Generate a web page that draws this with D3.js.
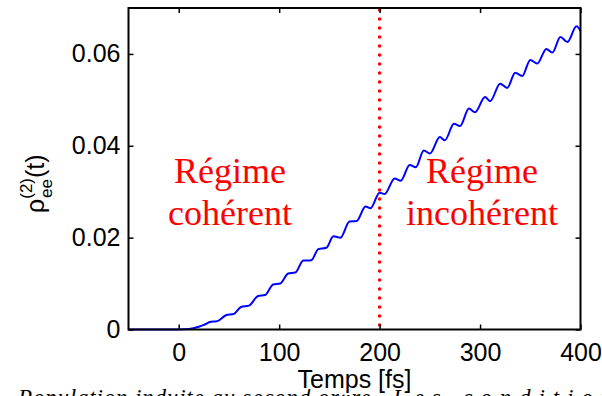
<!DOCTYPE html>
<html>
<head>
<meta charset="utf-8">
<script src="https://cdn.jsdelivr.net/npm/d3@7"></script>
<style>
  body { margin: 0; background: #fff; }
  svg { display: block; }
  .axis text { font-family: "Liberation Sans", Arial, sans-serif; font-size: 25px; fill: #000; }
  .axis line { stroke: #000; stroke-width: 1.5; }
  .axis path { display: none; }
</style>
</head>
<body>
<script>
'use strict'

// time [fs] and second-order population
const timeFs = [-50, 0, 10, 20, 25, 32, 38, 47, 55, 62, 70, 79, 86, 94, 101,
  109, 116, 124, 132, 139, 147, 154, 161, 170, 177, 186, 191, 200, 205, 215,
  221, 230, 236, 244, 250, 260, 265, 274, 280, 289, 295, 305, 310, 320, 327,
  335, 342, 350, 357, 366, 372, 380, 387, 396, 400];
const population = [0, 0, 0.0001, 0.0006, 0.0010, 0.0017, 0.0018, 0.0031, 0.0034, 0.0049,
  0.0052, 0.0073, 0.0075, 0.0098, 0.0100, 0.0122, 0.0124, 0.0150, 0.0151, 0.0175,
  0.0178, 0.0203, 0.0200, 0.0235, 0.0236, 0.0268, 0.0264, 0.0298, 0.0295, 0.0329,
  0.0324, 0.0358, 0.0353, 0.0390, 0.0383, 0.0419, 0.0412, 0.0448, 0.0443, 0.0481,
  0.0473, 0.0506, 0.0497, 0.0535, 0.0526, 0.0559, 0.0552, 0.0587, 0.0579, 0.0611,
  0.0603, 0.0637, 0.0626, 0.0660, 0.0650];

const xTicks = [0, 100, 200, 300, 400];
const xTickLabels = ["0", "100", "200", "300", "400"];
const yTicks = [0, 0.02, 0.04, 0.06];
const yTickLabels = ["0", "0.02", "0.04", "0.06"];
const boundary = 200;

const w = 602;
const h = 396;
const pLeft = 128.5, pRight = 580.5, pTop = 8, pBottom = 329.5;

const xScale = d3.scaleLinear().domain([-50, 400]).range([pLeft, pRight]);
const yScale = d3.scaleLinear().domain([0, 0.07]).range([pBottom, pTop]);

const svg = d3.select("body").append("svg")
  .attr("width", w)
  .attr("height", h);

// caption of the page underneath, mostly cut off
const caption = svg.append("text")
  .attr("y", 405)
  .style("font-family", "'Liberation Serif', serif")
  .style("font-style", "italic")
  .style("font-size", "23px")
  .attr("fill", "#000");
caption.append("tspan")
  .attr("x", 18)
  .attr("textLength", 359)
  .attr("lengthAdjust", "spacing")
  .text("Population induite au second ordre.");
caption.append("tspan")
  .attr("x", 393)
  .attr("textLength", 236)
  .attr("lengthAdjust", "spacing")
  .text("Les conditions");

const points = timeFs.map((t, i) => ({ t: t, p: population[i] }));

const line = d3.line()
  .x(d => xScale(d.t))
  .y(d => yScale(d.p))
  .curve(d3.curveMonotoneX);

svg.append("path")
  .datum(points)
  .attr("d", line)
  .attr("fill", "none")
  .attr("stroke", "#0000ff")
  .attr("stroke-width", 2);

// dotted separator
svg.append("line")
  .attr("x1", xScale(boundary))
  .attr("x2", xScale(boundary))
  .attr("y1", pTop + 2)
  .attr("y2", pBottom)
  .attr("stroke", "#ff0000")
  .attr("stroke-width", 3.6)
  .attr("stroke-linecap", "round")
  .attr("stroke-dasharray", "0 9");

// axes, ticks pointing in
svg.append("g")
  .attr("class", "axis")
  .attr("transform", "translate(0," + pBottom + ")")
  .call(d3.axisBottom(xScale).tickValues(xTicks).tickSize(-5).tickPadding(14)
    .tickFormat((d, i) => xTickLabels[i]));

svg.append("g")
  .attr("class", "axis")
  .attr("transform", "translate(0," + pTop + ")")
  .call(d3.axisTop(xScale).tickValues(xTicks).tickSize(-5).tickFormat(""));

svg.append("g")
  .attr("class", "axis")
  .attr("transform", "translate(" + pLeft + ",0)")
  .call(d3.axisLeft(yScale).tickValues(yTicks).tickSize(-5).tickPadding(8)
    .tickFormat((d, i) => yTickLabels[i]));

svg.append("g")
  .attr("class", "axis")
  .attr("transform", "translate(" + pRight + ",0)")
  .call(d3.axisRight(yScale).tickValues(yTicks).tickSize(-5).tickFormat(""));

svg.append("rect")
  .attr("x", pLeft)
  .attr("y", pTop)
  .attr("width", pRight - pLeft)
  .attr("height", pBottom - pTop)
  .attr("fill", "none")
  .attr("stroke", "#000")
  .attr("stroke-width", 2);

// regime labels
const regimes = [
  { x: 230, lines: ["Régime", "cohérent"] },
  { x: 482, lines: ["Régime", "incohérent"] }
];
regimes.forEach(r => {
  r.lines.forEach((s, i) => {
    svg.append("text")
      .attr("x", r.x)
      .attr("y", 183 + i * 42)
      .attr("text-anchor", "middle")
      .style("font-family", "'Liberation Serif', 'Times New Roman', serif")
      .style("font-size", "36px")
      .attr("fill", "#ff0000")
      .text(s);
  });
});

// x label
svg.append("text")
  .attr("x", (pLeft + pRight) / 2)
  .attr("y", 388)
  .attr("text-anchor", "middle")
  .style("font-family", "'Liberation Sans', Arial, sans-serif")
  .style("font-size", "25px")
  .attr("stroke", "#fff")
  .attr("stroke-width", 4)
  .attr("paint-order", "stroke")
  .attr("fill", "#000")
  .text("Temps [fs]");

// y label rho_ee^(2)(t)
const yLab = svg.append("text")
  .attr("transform", "translate(44,213) rotate(-90)")
  .style("font-family", "'Liberation Sans', Arial, sans-serif")
  .style("font-size", "25px")
  .attr("fill", "#000");
yLab.append("tspan").text("ρ");
yLab.append("tspan")
  .style("font-size", "17px")
  .attr("dy", -12)
  .text("(2)");
yLab.append("tspan")
  .style("font-size", "17px")
  .attr("dx", -20)
  .attr("dy", 20)
  .text("ee");
yLab.append("tspan")
  .attr("dy", -8)
  .attr("dx", 1)
  .text("(t)");
</script>
</body>
</html>
